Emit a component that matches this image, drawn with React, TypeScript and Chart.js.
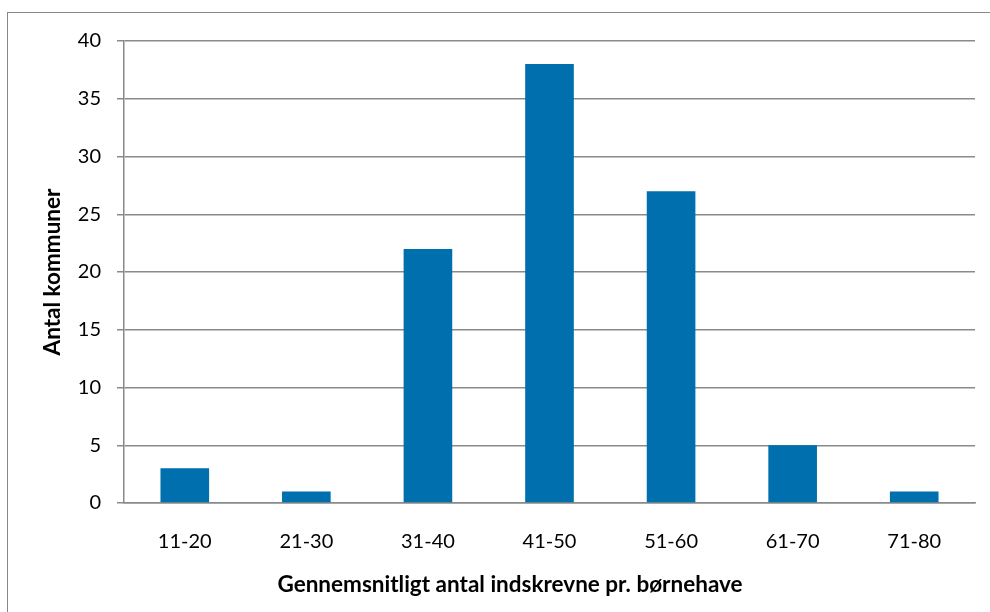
import React, { useEffect, useRef } from "react";
import { Chart, registerables } from "chart.js";

Chart.register(...registerables);

const categories = ["11-20", "21-30", "31-40", "41-50", "51-60", "61-70", "71-80"];
const counts = [3, 1, 22, 38, 27, 5, 1];
const xTitle = "Gennemsnitligt antal indskrevne pr. børnehave";
const yTitle = "Antal kommuner";

const FONT = "Lato, 'Open Sans', sans-serif";
const GRID = "#8a8a8a";

const axisTitles = {
  id: "axisTitles",
  afterDraw(chart: any) {
    const { ctx, chartArea } = chart;
    ctx.save();
    ctx.fillStyle = "#000";
    ctx.font = `bold 22.5px ${FONT}`;
    ctx.textAlign = "center";
    ctx.textBaseline = "middle";
    ctx.fillText(xTitle, 510, 585);
    ctx.translate(53, (chartArea.top + chartArea.bottom) / 2);
    ctx.rotate(-Math.PI / 2);
    ctx.fillText(yTitle, 0, 0);
    ctx.restore();
  },
};

export default function App() {
  const ref = useRef<HTMLCanvasElement>(null);
  useEffect(() => {
    if (!ref.current) return;
    const chart = new Chart(ref.current, {
      type: "bar",
      data: {
        labels: categories,
        datasets: [
          {
            data: counts,
            backgroundColor: "#006fad",
            borderWidth: 0,
            categoryPercentage: 1,
            barPercentage: 0.4,
          },
        ],
      },
      options: {
        animation: false,
        responsive: false,
        devicePixelRatio: 1,
        layout: { padding: { top: 41, right: 15, left: 0, bottom: 0 } },
        plugins: { legend: { display: false }, tooltip: { enabled: false } },
        scales: {
          x: {
            grid: { display: false },
            border: { display: true, color: GRID, width: 1.5 },
            ticks: { color: "#000", font: { family: FONT, size: 20 }, padding: 19 },
            afterFit: (s: any) => {
              s.height = 109;
            },
          },
          y: {
            min: 0,
            max: 40,
            ticks: { stepSize: 5, color: "#000", font: { family: FONT, size: 20 }, padding: 16 },
            grid: { color: GRID, lineWidth: 1.5, tickLength: 7 },
            border: { display: true, color: GRID, width: 1.5 },
            afterFit: (s: any) => {
              s.width = 124;
            },
          },
        },
      },
      plugins: [axisTitles],
    });
    return () => chart.destroy();
  }, []);
  return (
    <div
      style={{
        position: "absolute",
        left: 0,
        top: 0,
        width: 990,
        height: 612,
        overflow: "hidden",
        background: "#fff",
      }}
    >
      <div
        style={{
          position: "absolute",
          left: 7,
          top: 12,
          width: 1010,
          height: 700,
          border: "1.5px solid #888",
        }}
      />
      <canvas ref={ref} width={990} height={612} style={{ position: "absolute", left: 0, top: 0 }} />
    </div>
  );
}
